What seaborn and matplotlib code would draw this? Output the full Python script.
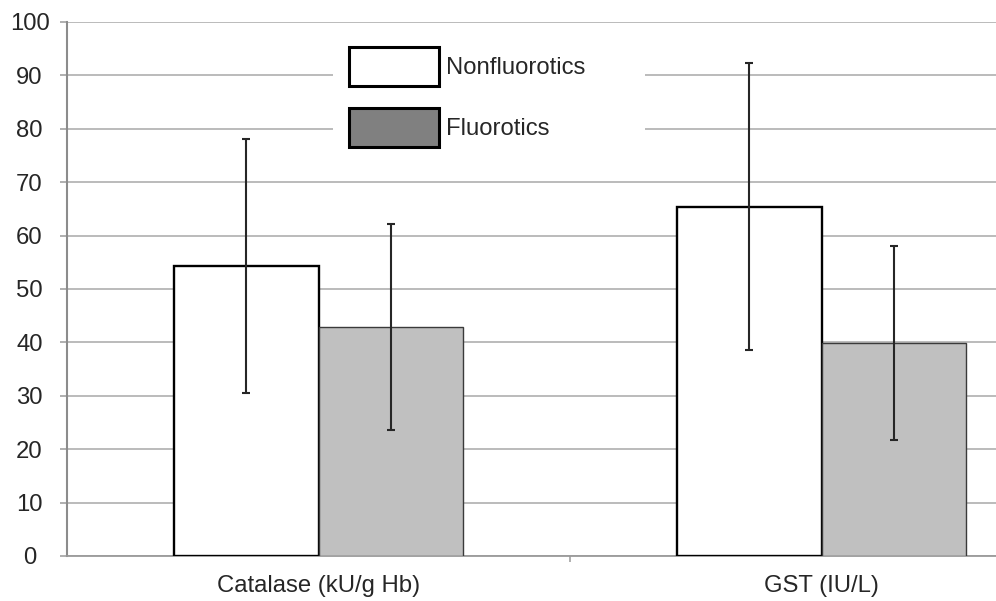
import pandas as pd
import matplotlib.pyplot as plt
import seaborn as sns
from matplotlib.patches import Patch, Rectangle

# valeurs
enzymes = ["Catalase (kU/g Hb)", "GST (IU/L)"]
groupes = ["Nonfluorotics", "Fluorotics"]
moy_nonfluo = [54.3, 65.4]
moy_fluo = [42.8, 39.9]
et_nonfluo = [23.7, 26.9]
et_fluo = [19.3, 18.2]
graduations = [0, 10, 20, 30, 40, 50, 60, 70, 80, 90, 100]

couleurs = {"Nonfluorotics": "white", "Fluorotics": "#c0c0c0"}
couleurs_legende = {"Nonfluorotics": "white", "Fluorotics": "#808080"}

df = pd.DataFrame({
    "enzyme": enzymes + enzymes,
    "groupe": [groupes[0]] * 2 + [groupes[1]] * 2,
    "valeur": moy_nonfluo + moy_fluo,
})
ecarts = {"Nonfluorotics": et_nonfluo, "Fluorotics": et_fluo}

sns.set_style("white")
plt.rcParams['font.family'] = ['Liberation Sans', 'DejaVu Sans']
taille = 17.2

fig = plt.figure(figsize=(9.96, 6.01), dpi=100)
ax = fig.add_axes([0.0673, 0.0749, 1.0100, 0.8885])

sns.barplot(data=df, x="enzyme", y="valeur", hue="groupe", order=enzymes,
            hue_order=groupes, palette=couleurs, width=0.573, gap=0,
            errorbar=None, legend=False, ax=ax)

gris = "#9a9a9a"
for groupe, cont in zip(groupes, ax.containers):
    xs, ys = [], []
    for barre in cont:
        if groupe == "Nonfluorotics":
            barre.set_edgecolor("black")
            barre.set_linewidth(1.7)
        else:
            barre.set_edgecolor("#3a3a3a")
            barre.set_linewidth(1.0)
        barre.set_zorder(3)
        xs.append(barre.get_x() + barre.get_width() / 2)
        ys.append(barre.get_height())
    ax.errorbar(xs, ys, yerr=ecarts[groupe], fmt="none", ecolor="#262626",
                elinewidth=1.5, capsize=3, capthick=1.5, zorder=4)

ax.set_xlim(-0.5, 1.5)
ax.set_ylim(0, 100)
ax.set_yticks(graduations)
ax.yaxis.grid(True, color="#a8a8a8", linewidth=1.1)
ax.set_axisbelow(True)

ax.tick_params(axis="y", direction="out", length=5, width=1.1, color=gris,
               left=True, labelsize=taille, pad=22)
for lab in ax.get_yticklabels():
    lab.set_horizontalalignment("center")
ax.tick_params(axis="x", length=0, labelsize=taille, pad=14)
ax.set_xticks([0.5], minor=True)
ax.tick_params(axis="x", which="minor", direction="out", length=4,
               width=1.1, color=gris, bottom=True)

sns.despine(ax=ax, top=True, right=True)
ax.spines["left"].set_color("#8c8c8c")
ax.spines["left"].set_linewidth(1.5)
ax.spines["bottom"].set_color(gris)
ax.spines["bottom"].set_linewidth(1.3)
ax.set_xlabel("")
ax.set_ylabel("")

# fond blanc derriere la legende
ax.add_patch(Rectangle((0.2644, 0.7416), 0.310, 0.243, transform=ax.transAxes,
                       facecolor="white", edgecolor="none", zorder=1.5))

poignees = [Patch(facecolor=couleurs_legende[g], edgecolor="black", linewidth=2.2,
                  label=g) for g in groupes]
ax.legend(handles=poignees, loc="upper left", bbox_to_anchor=(0.2803, 0.953),
          frameon=False, fontsize=taille, handlelength=3.75, handleheight=2.1,
          handletextpad=0.3, labelspacing=0.95, borderpad=0, borderaxespad=0)

fig.savefig("out.png", dpi=100)
